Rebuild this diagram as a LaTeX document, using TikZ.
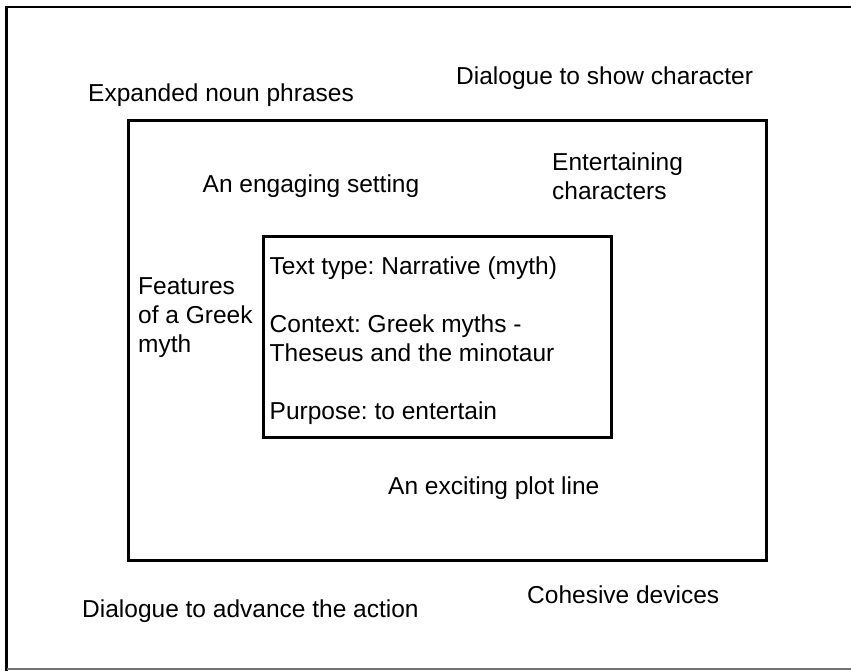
\documentclass[tikz,border=0pt]{standalone}
\usepackage{fontspec}
\setmainfont{Liberation Sans}
\frenchspacing
\begin{document}
\begin{tikzpicture}[x=1pt, y=-1pt,
    label text/.style={anchor=base west, inner sep=0pt, align=left,
      font=\fontsize{24.5}{29}\selectfont}]
    \useasboundingbox (0,0) rectangle (851,670);
    \begin{scope}
    \clip (0,0) rectangle (851,670);
    \draw[line width=2.8pt] (6.5,671) -- (6.5,7) -- (860,7);
    \draw[line width=1.2pt, black!55] (6.5,669) -- (860,669);
    \end{scope}
    \draw[line width=3pt] (128.5,120) rectangle (766.5,560.5);
    \draw[line width=3pt] (263.5,236) rectangle (611.5,437);
    \node[label text] (nounphr) at (88,101) {Expanded noun phrases};
    \node[label text] (dialchar) at (456,84) {Dialogue to show character};
    \node[label text] (setting) at (202.5,192.5) {An engaging setting};
    \node[label text] (charact) at (552,199) {Entertaining\\characters};
    \node[label text] (features) at (138,352) {Features\\of a Greek\\myth};
    \node[label text] (texttype) at (269.5,419.5)
      {Text type: Narrative (myth)\\[29pt]Context: Greek myths -\\Theseus and the minotaur\\[29pt]Purpose: to entertain};
    \node[label text] (plot) at (388,494.5) {An exciting plot line};
    \node[label text] (dialact) at (82,617) {Dialogue to advance the action};
    \node[label text] (cohesive) at (527,603.5) {Cohesive devices};
\end{tikzpicture}
\end{document}
